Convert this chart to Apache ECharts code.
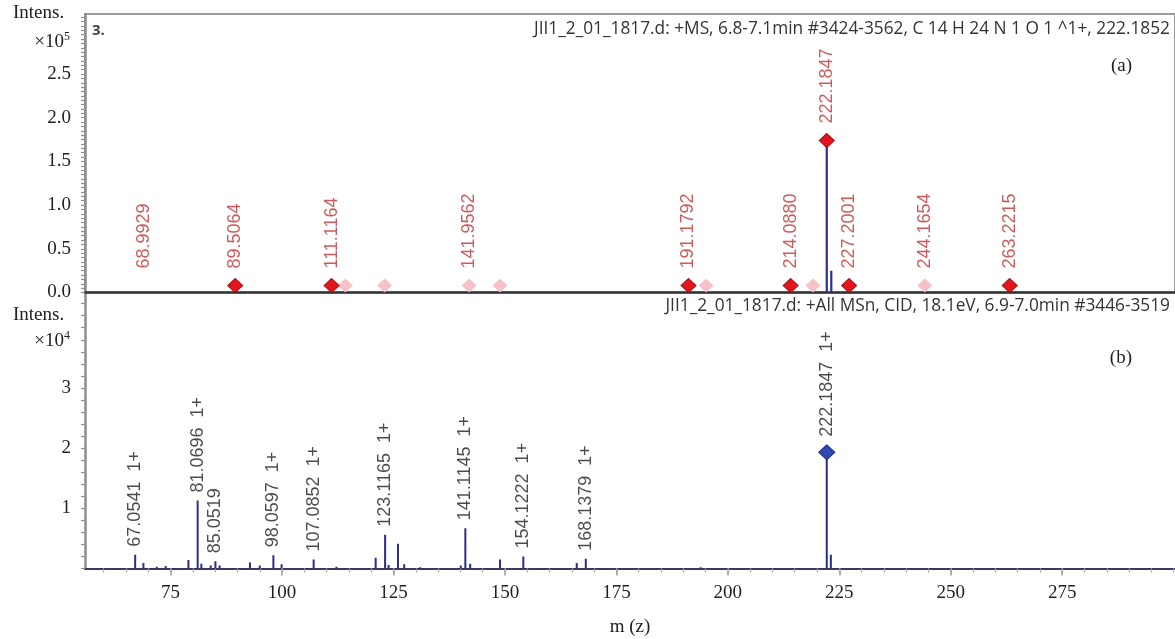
<!DOCTYPE html>
<html>
<head>
<meta charset="utf-8">
<script src="https://cdn.jsdelivr.net/npm/echarts@6/dist/echarts.min.js"></script>
<style>
html,body{margin:0;padding:0;background:#fff;}
#chart{width:1175px;height:639px;}
</style>
</head>
<body>
<div id="chart"></div>
<script>
// ---------- DATA ----------
// Panel (a): +MS spectrum, intensity in units of 1e5
const topStickMz = [222.1847, 223.2];
const topStickIntensity = [1.739, 0.25];
const topRedMz = [89.5064, 111.1164, 191.1792, 214.0880, 222.1847, 227.2001, 263.2215];
const topRedIntensity = [0.08, 0.08, 0.08, 0.08, 1.739, 0.08, 0.08];
const topPinkMz = [114.2, 123.0, 141.9562, 148.9, 195.1, 219.1, 244.1654];
const topPinkIntensity = [0.08, 0.08, 0.08, 0.08, 0.08, 0.08, 0.08];
const topLabelMz = [68.9929, 89.5064, 111.1164, 141.9562, 191.1792, 214.0880, 222.1847, 227.2001, 244.1654, 263.2215];
const topLabelIntensity = [0.08, 0.08, 0.08, 0.08, 0.08, 0.08, 1.739, 0.08, 0.08, 0.08];

// Panel (b): All MSn CID spectrum, intensity in units of 1e4
const msnMz = [67.0541, 68.9, 71.9, 73.9, 79.0, 81.0696, 81.9, 84.0, 85.0519, 86.0, 92.8, 95.0,
  98.0597, 99.9, 107.0852, 112.2, 121.0, 123.1165, 123.9, 126.0, 127.4, 131.0, 140.1, 141.1145,
  142.2, 148.9, 154.1222, 166.1, 168.1379, 193.9, 222.1847, 223.1];
const msnIntensity = [0.23, 0.09, 0.03, 0.04, 0.14, 1.13, 0.08, 0.05, 0.12, 0.05, 0.10, 0.05,
  0.22, 0.07, 0.15, 0.03, 0.18, 0.56, 0.06, 0.41, 0.07, 0.02, 0.05, 0.67,
  0.08, 0.15, 0.20, 0.09, 0.16, 0.02, 1.93, 0.23];
const msnDiamondMz = [222.1847];
const msnDiamondIntensity = [1.93];
const msnLabelMz = [67.0541, 81.0696, 85.0519, 98.0597, 107.0852, 123.1165, 141.1145, 154.1222, 168.1379, 222.1847];
const msnLabelIntensity = [0.23, 1.13, 0.12, 0.22, 0.15, 0.56, 0.67, 0.20, 0.16, 1.93];
const msnLabelCharge = ['1+', '1+', '', '1+', '1+', '1+', '1+', '1+', '1+', '1+'];

// Tick labels
const xTickLabels = [75, 100, 125, 150, 175, 200, 225, 250, 275];
const topYTickLabels = [0, 0.5, 1.0, 1.5, 2.0, 2.5];
const bottomYTickLabels = [1, 2, 3];

// Texts
const topHeader = 'JII1_2_01_1817.d: +MS, 6.8-7.1min #3424-3562, C 14 H 24 N 1 O 1 ^1+, 222.1852';
const bottomHeader = 'JII1_2_01_1817.d: +All MSn, CID, 18.1eV, 6.9-7.0min #3446-3519';

// ---------- CHART ----------
const X_MIN = 55.8, X_MAX = 300.3;
const zip = (a, b) => a.map((v, i) => [v, b[i]]);
const range = (a, b, s) => { const r = []; for (let v = a; v <= b + 1e-9; v += s) r.push(Math.round(v * 1000) / 1000); return r; };
const minorX = range(60, 300, 5);
const minorTopY = range(0, 3.15, 0.05);
const minorBottomY = range(0, 4.4, 0.2);

const SERIF = '"Liberation Serif", "Times New Roman", serif';
const SANS = '"Liberation Sans", Arial, sans-serif';
const HEAD = '"Open Sans", "Noto Sans", sans-serif';
const GRAY = '#8e8e8e';

function stickRenderer(color, width) {
  return function (params, api) {
    const x = api.value(0), y = api.value(1);
    const p0 = api.coord([x, 0]);
    const p1 = api.coord([x, y]);
    return { type: 'line', shape: { x1: p0[0], y1: p0[1], x2: p1[0], y2: p1[1] },
      style: { stroke: color, lineWidth: width } };
  };
}

const chart = echarts.init(document.getElementById('chart'), null, { renderer: 'canvas' });
const yLabelStyle = { fontFamily: SERIF, fontSize: 19, color: '#222' };
const richPow = {
  a: { fontFamily: SERIF, fontSize: 19, fontWeight: 'normal', color: '#222', lineHeight: 22 },
  b: { fontFamily: SERIF, fontSize: 12, fontWeight: 'normal', color: '#222', verticalAlign: 'top', lineHeight: 22, padding: [0, 0, 8, 0] }
};

chart.setOption({
  animation: false,
  backgroundColor: '#fff',
  title: [
    { text: 'Intens.', left: 13, top: 4, padding: 0, textStyle: { fontFamily: SERIF, fontSize: 19, fontWeight: 'normal', color: '#222' } },
    { text: '{a|×10}{b|5}', right: 1105, top: 31, padding: 0, textStyle: { fontWeight: 'normal', rich: richPow } },
    { text: 'Intens.', left: 13, top: 306, padding: 0, textStyle: { fontFamily: SERIF, fontSize: 19, fontWeight: 'normal', color: '#222' } },
    { text: '{a|×10}{b|4}', right: 1105, top: 330, padding: 0, textStyle: { fontWeight: 'normal', rich: richPow } },
    { text: '3.', left: 92, top: 23, padding: 0, textStyle: { fontFamily: HEAD, fontSize: 15, fontWeight: 'bold', color: '#444' } },
    { text: topHeader, right: 5, top: 21, padding: 0, textStyle: { fontFamily: HEAD, fontSize: 17.3, fontWeight: 'normal', color: '#333' } },
    { text: bottomHeader, right: 5, top: 298, padding: 0, textStyle: { fontFamily: HEAD, fontSize: 17.3, fontWeight: 'normal', color: '#333' } },
    { text: '(a)', right: 43, top: 57, padding: 0, textStyle: { fontFamily: SERIF, fontSize: 19, fontWeight: 'normal', color: '#222' } },
    { text: '(b)', right: 43, top: 349, padding: 0, textStyle: { fontFamily: SERIF, fontSize: 19, fontWeight: 'normal', color: '#222' } }
  ],
  grid: [
    { left: 85, top: 14, width: 1092, height: 278.5, show: true, borderColor: '#9a9a9a', borderWidth: 2, backgroundColor: 'transparent' },
    { left: 85, top: 292.5, width: 1092, height: 276 }
  ],
  xAxis: [
    { gridIndex: 0, type: 'value', min: X_MIN, max: X_MAX,
      axisLine: { show: true, onZero: false, lineStyle: { color: '#333', width: 2.5 } },
      axisTick: { show: false }, axisLabel: { show: false }, splitLine: { show: false } },
    { gridIndex: 1, type: 'value', min: X_MIN, max: X_MAX,
      axisLine: { show: true, onZero: false, lineStyle: { color: '#3a3a5e', width: 2 } },
      axisTick: { show: true, length: 7, customValues: xTickLabels, lineStyle: { color: '#999', width: 1.5 } },
      axisLabel: { show: true, customValues: xTickLabels, margin: 15, fontFamily: SERIF, fontSize: 19, color: '#222' },
      splitLine: { show: false },
      name: 'm (z)', nameLocation: 'middle', nameGap: 49,
      nameTextStyle: { fontFamily: SERIF, fontSize: 19, color: '#222' } },
    { gridIndex: 1, type: 'value', min: X_MIN, max: X_MAX, position: 'bottom',
      axisLine: { show: false }, axisLabel: { show: false }, splitLine: { show: false },
      axisTick: { show: true, length: 4, customValues: minorX, lineStyle: { color: '#aaa', width: 1.2 } } }
  ],
  yAxis: [
    { gridIndex: 0, type: 'value', min: 0, max: 3.187,
      axisLine: { show: true, lineStyle: { color: GRAY, width: 2.5 } },
      axisTick: { show: true, length: 4, customValues: minorTopY, lineStyle: { color: GRAY, width: 1.2 } },
      axisLabel: Object.assign({ show: true, customValues: topYTickLabels, margin: 14, formatter: v => Number(v).toFixed(1) }, yLabelStyle),
      splitLine: { show: false } },
    { gridIndex: 1, type: 'value', min: 0, max: 4.585,
      axisLine: { show: true, lineStyle: { color: GRAY, width: 2.5 } },
      axisTick: { show: true, length: 4, customValues: minorBottomY, lineStyle: { color: GRAY, width: 1.2 } },
      axisLabel: Object.assign({ show: true, customValues: bottomYTickLabels, margin: 14, formatter: v => String(v) }, yLabelStyle),
      splitLine: { show: false } }
  ],
  series: [
    { type: 'custom', xAxisIndex: 0, yAxisIndex: 0, z: 3, clip: true,
      renderItem: stickRenderer('#2e2e96', 2.2), encode: { x: 0, y: 1 },
      data: zip(topStickMz, topStickIntensity) },
    { type: 'scatter', xAxisIndex: 0, yAxisIndex: 0, z: 4, symbol: 'diamond', symbolSize: [15, 14],
      itemStyle: { color: '#f5c3c7', opacity: 1 },
      data: zip(topPinkMz, topPinkIntensity) },
    { type: 'scatter', xAxisIndex: 0, yAxisIndex: 0, z: 5, symbol: 'diamond', symbolSize: [15, 14],
      itemStyle: { color: '#e3161e', borderColor: '#a30c10', borderWidth: 1, opacity: 1 },
      data: zip(topRedMz, topRedIntensity) },
    { type: 'scatter', xAxisIndex: 0, yAxisIndex: 0, z: 6, symbol: 'diamond', symbolSize: [15, 14],
      itemStyle: { color: 'rgba(0,0,0,0)' }, silent: true,
      label: { show: true, position: 'top', distance: 10, rotate: 90, align: 'left', verticalAlign: 'middle',
        fontFamily: SANS, fontSize: 18, color: '#c03236', formatter: p => p.value[0].toFixed(4) },
      data: zip(topLabelMz, topLabelIntensity) },
    { type: 'custom', xAxisIndex: 1, yAxisIndex: 1, z: 3, clip: true,
      renderItem: stickRenderer('#2c2c8c', 2), encode: { x: 0, y: 1 },
      data: zip(msnMz, msnIntensity) },
    { type: 'scatter', xAxisIndex: 1, yAxisIndex: 1, z: 5, symbol: 'diamond', symbolSize: [16, 15],
      itemStyle: { color: '#2f49b4', borderColor: '#1b2a86', borderWidth: 1, opacity: 1 },
      data: zip(msnDiamondMz, msnDiamondIntensity) },
    { type: 'scatter', xAxisIndex: 1, yAxisIndex: 1, z: 6, symbol: 'diamond',
      symbolSize: v => msnDiamondMz.includes(v[0]) ? [16, 15] : 0,
      itemStyle: { color: 'rgba(0,0,0,0)' }, silent: true,
      label: { show: true, position: 'top', distance: 8, rotate: 90, align: 'left', verticalAlign: 'middle',
        fontFamily: SANS, fontSize: 18, color: '#1e1e1e',
        formatter: p => { const c = msnLabelCharge[p.dataIndex]; return p.value[0].toFixed(4) + (c ? '  ' + c : ''); } },
      data: zip(msnLabelMz, msnLabelIntensity) }
  ]
});
</script>
</body>
</html>
